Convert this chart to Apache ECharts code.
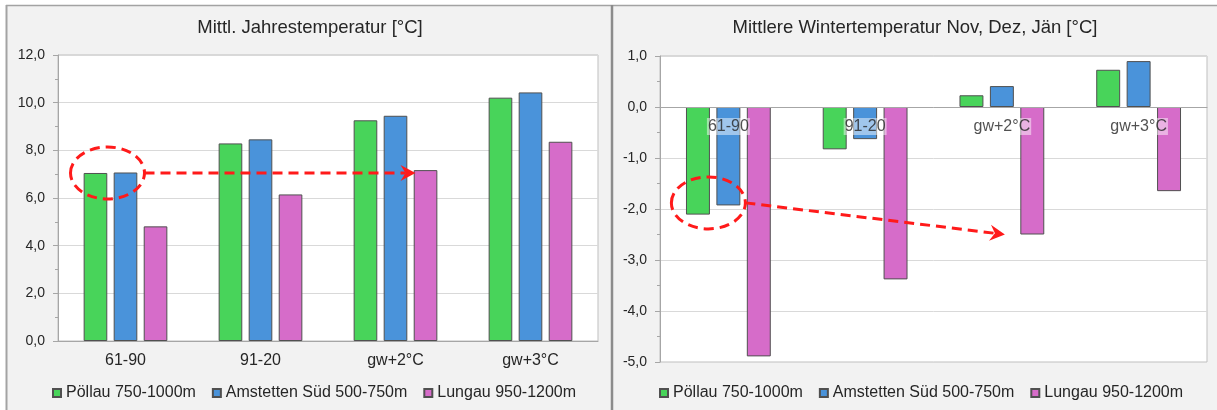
<!DOCTYPE html>
<html>
<head>
<meta charset="utf-8">
<script src="https://cdn.jsdelivr.net/npm/echarts@6/dist/echarts.min.js"></script>
<style>
  html, body { margin: 0; padding: 0; background: #ffffff; }
  #chart { width: 1217px; height: 410px; }
</style>
</head>
<body>
<div id="chart"></div>
<script>
// Periods shown on both panels
const periods = ['61-90', '91-20', 'gw+2°C', 'gw+3°C'];
const seriesNames = ['Pöllau 750-1000m', 'Amstetten Süd 500-750m', 'Lungau 950-1200m'];

// Mean annual temperature [°C]
const annualPoellau   = [7.05, 8.29, 9.26, 10.21];
const annualAmstetten = [7.07, 8.46, 9.45, 10.43];
const annualLungau    = [4.81, 6.15, 7.17, 8.36];

// Mean winter temperature Nov, Dez, Jän [°C]
const winterPoellau   = [-2.11, -0.83, 0.23, 0.73];
const winterAmstetten = [-1.93, -0.63, 0.41, 0.90];
const winterLungau    = [-4.89, -3.38, -2.50, -1.65];

// Y-axis tick labels
const annualTicks = ['0,0', '2,0', '4,0', '6,0', '8,0', '10,0', '12,0'];
const winterTicks = ['-5,0', '-4,0', '-3,0', '-2,0', '-1,0', '0,0', '1,0'];

const colors = ['#48d45a', '#4a93da', '#d66cc9'];
const FONT = "'Liberation Sans', Arial, sans-serif";
const TXT = '#262626';

const chart = echarts.init(document.getElementById('chart'), null, { renderer: 'canvas' });

function commaLabel(v) {
  return v.toFixed(1).replace('.', ',');
}

function yAxis(gridIndex, min, max, interval, ticks) {
  return {
    type: 'value', gridIndex, min, max, interval,
    axisLine: { show: true, lineStyle: { color: '#a6a6a6', width: 1 } },
    axisTick: { show: true, length: 5, lineStyle: { color: '#a6a6a6' } },
    minorTick: { show: true, splitNumber: 2, length: 3, lineStyle: { color: '#a6a6a6' } },
    splitLine: { show: true, lineStyle: { color: '#d9d9d9', width: 1 } },
    axisLabel: {
      margin: 13, fontSize: 14, color: TXT, fontFamily: FONT,
      formatter: function (v) {
        const s = commaLabel(v);
        return ticks.indexOf(s) >= 0 ? s : '';
      }
    }
  };
}

const catLabelStyle = { fontSize: 16, color: TXT, fontFamily: FONT };

function xAxis(gridIndex, showLabels) {
  return {
    type: 'category', gridIndex, data: periods, z: 10,
    axisLine: { show: true, onZero: true, lineStyle: { color: '#a6a6a6', width: 1 } },
    axisTick: { show: false },
    axisLabel: Object.assign({ show: showLabels, margin: 12, interval: 0 }, catLabelStyle)
  };
}

function barSeries(name, data, idx, axisIdx) {
  return {
    name, type: 'bar', data,
    xAxisIndex: axisIdx, yAxisIndex: axisIdx,
    barGap: '27%', barCategoryGap: '38%',
    itemStyle: { color: colors[idx], borderColor: '#505050', borderWidth: 1 },
    emphasis: { disabled: true }
  };
}

// Winter panel: period names sit just below the zero line, over the bars
const winterPeriodLabels = {
  name: 'Zeitraum', type: 'scatter', xAxisIndex: 1, yAxisIndex: 1, z: 20,
  data: periods.map(function (p) { return [p, 0]; }),
  symbolSize: 0, silent: true,
  label: Object.assign({
    show: true, position: 'bottom', distance: 11,
    formatter: function (p) { return p.value[0]; },
    backgroundColor: 'rgba(255,255,255,0.6)', padding: [1, 1, 0, 1]
  }, catLabelStyle),
  emphasis: { disabled: true }
};

function legend(left) {
  return {
    data: seriesNames, left, top: 380, orient: 'horizontal',
    icon: 'rect', itemWidth: 8, itemHeight: 8, itemGap: 16,
    textStyle: { fontSize: 16, color: TXT, fontFamily: FONT },
    selectedMode: false
  };
}

const panelElements = [
  { id: 'panelL', type: 'rect', z: -10, shape: { x: 6, y: 5, width: 606, height: 405 },
    style: { fill: '#f2f2f2' } },
  { id: 'panelR', type: 'rect', z: -10, shape: { x: 612, y: 5, width: 605, height: 405 },
    style: { fill: '#f2f2f2' } },
  { id: 'borderTop', type: 'line', z: -9, shape: { x1: 6, y1: 5.5, x2: 1217, y2: 5.5 },
    style: { stroke: '#a3a3a3', lineWidth: 1.5 } },
  { id: 'borderLeft', type: 'line', z: -9, shape: { x1: 6.5, y1: 5, x2: 6.5, y2: 410 },
    style: { stroke: '#a3a3a3', lineWidth: 2 } },
  { id: 'divider', type: 'line', z: -9, shape: { x1: 612, y1: 5, x2: 612, y2: 410 },
    style: { stroke: '#8c8c8c', lineWidth: 2.5 } },
  { id: 'titleL', type: 'text', z: 5, x: 310, y: 28,
    style: { text: 'Mittl. Jahrestemperatur [°C]', fill: TXT, font: '18.5px ' + FONT,
      textAlign: 'center', textVerticalAlign: 'middle' } },
  { id: 'titleR', type: 'text', z: 5, x: 915, y: 28,
    style: { text: 'Mittlere Wintertemperatur Nov, Dez, Jän [°C]', fill: TXT, font: '18.5px ' + FONT,
      textAlign: 'center', textVerticalAlign: 'middle' } }
];

chart.setOption({
  backgroundColor: '#ffffff',
  animation: false,
  textStyle: { fontFamily: FONT },
  grid: [
    { left: 58, top: 55, width: 540, height: 286, show: true,
      backgroundColor: '#ffffff', borderColor: '#bfbfbf', borderWidth: 1 },
    { left: 660, top: 56, width: 547, height: 306, show: true,
      backgroundColor: '#ffffff', borderColor: '#bfbfbf', borderWidth: 1 }
  ],
  xAxis: [xAxis(0, true), xAxis(1, false)],
  yAxis: [yAxis(0, 0, 12, 2, annualTicks), yAxis(1, -5, 1, 1, winterTicks)],
  legend: [legend(47), legend(654)],
  series: [
    barSeries(seriesNames[0], annualPoellau, 0, 0),
    barSeries(seriesNames[1], annualAmstetten, 1, 0),
    barSeries(seriesNames[2], annualLungau, 2, 0),
    barSeries(seriesNames[0], winterPoellau, 0, 1),
    barSeries(seriesNames[1], winterAmstetten, 1, 1),
    barSeries(seriesNames[2], winterLungau, 2, 1),
    winterPeriodLabels
  ],
  graphic: { elements: panelElements }
});

// Dashed red highlight: ellipse around the reference-period bars and an
// arrow pointing at the Lungau bar of the gw+2°C scenario.
const RED = '#ff1a1a';
const DASH = [10, 6];

function arrowHead(id, tipX, tipY, angle) {
  const len = 15, half = 8, notch = 5;
  const c = Math.cos(angle), s = Math.sin(angle);
  const pt = (dx, dy) => [tipX + dx * c - dy * s, tipY + dx * s + dy * c];
  return {
    id, type: 'polygon', z: 101,
    shape: { points: [pt(0, 0), pt(-len, -half), pt(-len + notch, 0), pt(-len, half)] },
    style: { fill: RED }
  };
}

function highlight(prefix, gridIndex, startCat, startVal, endCat, endVal, ellOffset, startOffset, tipOffset) {
  const a = chart.convertToPixel({ gridIndex }, [startCat, startVal]);
  const b = chart.convertToPixel({ gridIndex }, [endCat, endVal]);
  const cx = a[0] + ellOffset, cy = a[1];
  const x1 = a[0] + startOffset, y1 = a[1];
  const tx = b[0] + tipOffset, ty = b[1];
  const ang = Math.atan2(ty - y1, tx - x1);
  const lx = tx - 10 * Math.cos(ang), ly = ty - 10 * Math.sin(ang);
  return [
    { id: prefix + 'Ell', type: 'ellipse', z: 100,
      shape: { cx, cy, rx: 37, ry: 26 },
      style: { fill: 'none', stroke: RED, lineWidth: 3, lineDash: DASH } },
    { id: prefix + 'Line', type: 'line', z: 100,
      shape: { x1, y1, x2: lx, y2: ly },
      style: { stroke: RED, lineWidth: 3, lineDash: DASH } },
    arrowHead(prefix + 'Head', tx, ty, ang)
  ];
}

const notes = [].concat(
  highlight('annual', 0, 0, annualPoellau[0], 2, annualPoellau[0], -18, 19, 20),
  highlight('winter', 1, 0, -1.88, 2, winterLungau[2], -20, 17, 3)
);

chart.setOption({ graphic: { elements: notes } });
</script>
</body>
</html>
